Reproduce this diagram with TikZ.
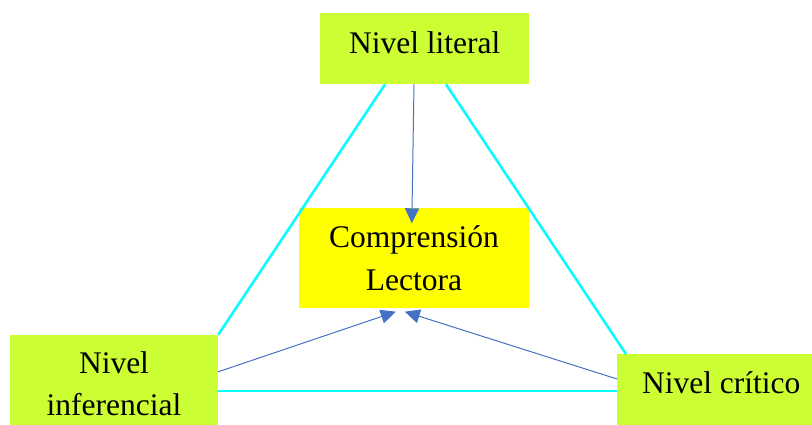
\documentclass[tikz,border=0pt]{standalone}
\usepackage{fontspec}
\setmainfont{Liberation Serif}
\usetikzlibrary{calc,arrows.meta}
\definecolor{limebox}{RGB}{204,255,51}
\definecolor{yelbox}{RGB}{255,255,0}
\definecolor{cyanline}{RGB}{0,255,255}
\definecolor{bluearrow}{RGB}{68,114,196}
\begin{document}
\begin{tikzpicture}[x=1pt,y=-1pt,
  lvl/.style={fill=limebox,draw=none,inner sep=0pt,font=\fontsize{31.5}{42}\selectfont,align=center},
  core/.style={fill=yelbox,draw=none,inner sep=0pt,font=\fontsize{31.5}{43}\selectfont,align=center},
  side/.style={draw=cyanline,line width=2.5pt},
  feed/.style={draw=bluearrow,line width=1pt,-{Triangle[width=14pt,length=15pt]}}]
\useasboundingbox (0,0) rectangle (812,425);
% nodes
\node[lvl,anchor=north west,minimum width=209pt,text height=40pt,text depth=31pt] (lit) at (320,13) {Nivel literal};
\node[core,minimum width=230pt,minimum height=99pt] (comp) at (414,258) {Comprensión\\Lectora};
\node[lvl,minimum width=208pt,minimum height=98pt] (inf) at (114,384) {Nivel\\inferencial};
\node[lvl,anchor=north west,minimum width=208pt,text height=39pt,text depth=40pt] (crit) at (617,354) {Nivel crítico};
% triangle sides
\coordinate (litL) at ($(lit.south west)+(65,0)$);
\coordinate (litR) at ($(lit.south west)+(126,0)$);
\coordinate (critT) at ($(crit.north west)+(9,0)$);
\coordinate (infB) at ($(inf.north east)+(0,56)$);
\coordinate (critB) at (infB -| crit.west);
\draw[side] (litL) -- (inf.north east);
\draw[side] (litR) -- (critT);
\draw[side] (infB) -- (critB);
% arrows to centre
\coordinate (litA) at ($(lit.south west)+(94,0)$);
\coordinate (compT) at ($(comp.north west)+(113,15)$);
\coordinate (infA) at ($(inf.north east)+(0,37)$);
\coordinate (compL) at ($(comp.south west)+(97,4)$);
\coordinate (critA) at ($(crit.north west)+(0,25)$);
\coordinate (compR) at ($(comp.south west)+(106,4)$);
\draw[feed] (litA) -- (compT);
\draw[feed] (infA) -- (compL);
\draw[feed] (critA) -- (compR);
\end{tikzpicture}
\end{document}
